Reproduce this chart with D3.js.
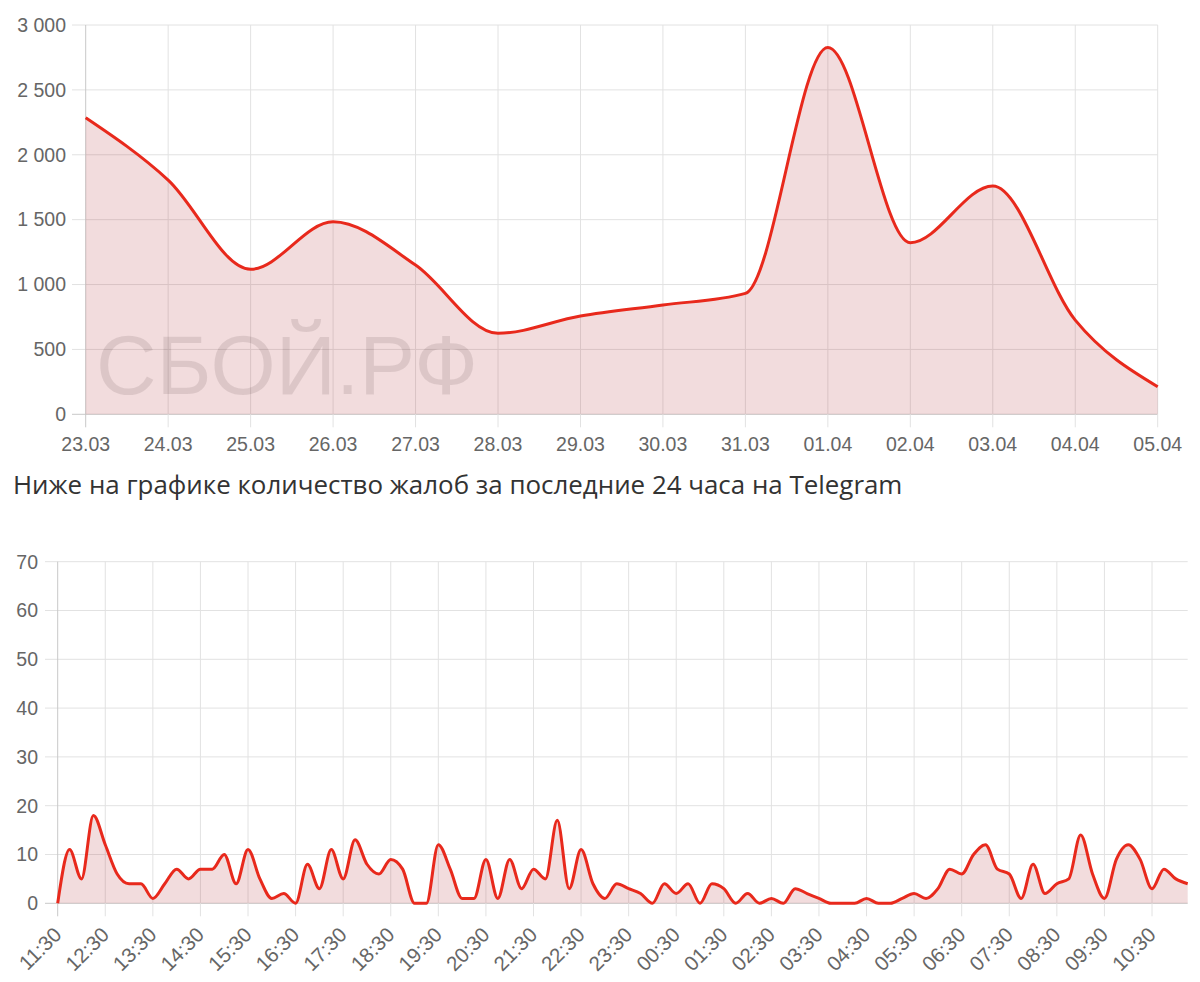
<!DOCTYPE html>
<html>
<head>
<meta charset="utf-8">
<script src="https://cdn.jsdelivr.net/npm/d3@7"></script>
<style>
  html, body { margin: 0; padding: 0; background: #fff; }
  svg { display: block; }
</style>
</head>
<body>
<div id="chart"></div>
<script>
// daily complaints, last two weeks
var dayLabels = ["23.03","24.03","25.03","26.03","27.03","28.03","29.03","30.03","31.03","01.04","02.04","03.04","04.04","05.04"];
var dayValues = [2285, 1805, 1117, 1484, 1150, 624, 757, 842, 932, 2827, 1322, 1759, 726, 213];
var dayTicks = [0, 500, 1000, 1500, 2000, 2500, 3000];

// telegram, last 24 hours, one value per 15 minutes starting 11:30
var hourLabels = ["11:30","12:30","13:30","14:30","15:30","16:30","17:30","18:30","19:30","20:30","21:30","22:30",
                  "23:30","00:30","01:30","02:30","03:30","04:30","05:30","06:30","07:30","08:30","09:30","10:30"];
var tgValues = [0, 11, 5, 18, 12, 6, 4, 4, 1, 4, 7, 5,
                7, 7, 10, 4, 11, 5, 1, 2, 0, 8, 3, 11,
                5, 13, 8, 6, 9, 7, 0, 0, 12, 7, 1, 1,
                9, 1, 9, 3, 7, 5, 17, 3, 11, 4, 1, 4,
                3, 2, 0, 4, 2, 4, 0, 4, 3, 0, 2, 0,
                1, 0, 3, 2, 1, 0, 0, 0, 1, 0, 0, 1,
                2, 1, 3, 7, 6, 10, 12, 7, 6, 1, 8, 2,
                4, 5, 14, 6, 1, 9, 12, 9, 3, 7, 5, 4];
var tgTicks = [0, 10, 20, 30, 40, 50, 60, 70];

var titleText = "Ниже на графике количество жалоб за последние 24 часа на Telegram";
var watermark = "СБОЙ.РФ";

var width = 1200, height = 982;
var gridColor = "#e2e2e2";
var axisColor = "#c8c8c8";
var lineColor = "#e8291c";
var areaColor = "rgba(180,50,55,0.17)";
var labelColor = "#666";
var tickFont = "Liberation Sans, Arial, Helvetica, sans-serif";

var fmt = function(v){ return d3.format(",")(v).replace(/,/g, " "); };

var svg = d3.select("#chart").append("svg")
  .attr("width", width)
  .attr("height", height);

//---------- top chart ----------
var xTop = d3.scalePoint().domain(dayLabels).range([85.7, 1157.7]);
var yTop = d3.scaleLinear().domain([0, 3000]).range([414.3, 25]);

var topG = svg.append("g");

topG.selectAll(".hgrid").data(dayTicks).enter().append("line")
  .attr("x1", 72).attr("x2", xTop.range()[1])
  .attr("y1", function(d){ return yTop(d); }).attr("y2", function(d){ return yTop(d); })
  .attr("stroke", function(d){ return d === 0 ? axisColor : gridColor; })
  .attr("stroke-width", 1);

topG.selectAll(".vgrid").data(dayLabels).enter().append("line")
  .attr("x1", function(d){ return xTop(d); }).attr("x2", function(d){ return xTop(d); })
  .attr("y1", yTop(3000)).attr("y2", yTop(0) + 13)
  .attr("stroke", function(d, i){ return i === 0 ? axisColor : gridColor; })
  .attr("stroke-width", 1);

// watermark
var wm = topG.append("text")
  .attr("x", 96).attr("y", 394)
  .attr("font-family", tickFont)
  .attr("font-size", 96)
  .attr("fill", "rgba(0,0,0,0.1)")
  .text(watermark);
var wmLen = wm.node().getComputedTextLength();
wm.attr("font-size", 96 * 382 / wmLen);

topG.append("path")
  .datum(dayValues)
  .attr("d", d3.area()
    .x(function(d, i){ return xTop(dayLabels[i]); })
    .y0(yTop(0))
    .y1(function(d){ return yTop(d); })
    .curve(d3.curveMonotoneX))
  .attr("fill", areaColor);

topG.append("path")
  .datum(dayValues)
  .attr("d", d3.line()
    .x(function(d, i){ return xTop(dayLabels[i]); })
    .y(function(d){ return yTop(d); })
    .curve(d3.curveMonotoneX))
  .attr("fill", "none")
  .attr("stroke", lineColor)
  .attr("stroke-width", 3)
  .attr("stroke-linejoin", "round");

topG.selectAll(".ylab").data(dayTicks).enter().append("text")
  .attr("x", 66).attr("y", function(d){ return yTop(d); })
  .attr("dy", "0.35em")
  .attr("text-anchor", "end")
  .attr("font-family", tickFont).attr("font-size", 19.5)
  .attr("fill", labelColor)
  .text(fmt);

topG.selectAll(".xlab").data(dayLabels).enter().append("text")
  .attr("x", function(d){ return xTop(d); }).attr("y", 451)
  .attr("text-anchor", "middle")
  .attr("font-family", tickFont).attr("font-size", 19.5)
  .attr("fill", labelColor)
  .text(function(d){ return d; });

//---------- title ----------
var title = svg.append("text")
  .attr("x", 13).attr("y", 494)
  .attr("font-family", "Open Sans, Noto Sans, sans-serif")
  .attr("font-size", 25)
  .attr("fill", "#333")
  .text(titleText);
var tLen = title.node().getComputedTextLength();
title.attr("font-size", 25 * 890 / tLen);

//---------- bottom chart ----------
var xBot = d3.scaleLinear().domain([0, tgValues.length - 1]).range([57.7, 1187.7]);
var yBot = d3.scaleLinear().domain([0, 70]).range([903.3, 561.7]);
var hourIdx = hourLabels.map(function(d, i){ return i * 4; });

var botG = svg.append("g");

botG.selectAll(".hgrid").data(tgTicks).enter().append("line")
  .attr("x1", 45).attr("x2", xBot.range()[1])
  .attr("y1", function(d){ return yBot(d); }).attr("y2", function(d){ return yBot(d); })
  .attr("stroke", function(d){ return d === 0 ? axisColor : gridColor; })
  .attr("stroke-width", 1);

botG.selectAll(".vgrid").data(hourIdx).enter().append("line")
  .attr("x1", function(d){ return xBot(d); }).attr("x2", function(d){ return xBot(d); })
  .attr("y1", yBot(70)).attr("y2", yBot(0) + 13)
  .attr("stroke", function(d, i){ return i === 0 ? axisColor : gridColor; })
  .attr("stroke-width", 1);

botG.append("path")
  .datum(tgValues)
  .attr("d", d3.area()
    .x(function(d, i){ return xBot(i); })
    .y0(yBot(0))
    .y1(function(d){ return yBot(d); })
    .curve(d3.curveMonotoneX))
  .attr("fill", areaColor);

botG.append("path")
  .datum(tgValues)
  .attr("d", d3.line()
    .x(function(d, i){ return xBot(i); })
    .y(function(d){ return yBot(d); })
    .curve(d3.curveMonotoneX))
  .attr("fill", "none")
  .attr("stroke", lineColor)
  .attr("stroke-width", 3)
  .attr("stroke-linejoin", "round");

botG.selectAll(".ylab").data(tgTicks).enter().append("text")
  .attr("x", 38).attr("y", function(d){ return yBot(d); })
  .attr("dy", "0.35em")
  .attr("text-anchor", "end")
  .attr("font-family", tickFont).attr("font-size", 19.5)
  .attr("fill", labelColor)
  .text(function(d){ return d; });

botG.selectAll(".xlab").data(hourLabels).enter().append("text")
  .attr("transform", function(d, i){ return "translate(" + (xBot(i * 4) + 5) + ",936) rotate(-45)"; })
  .attr("text-anchor", "end")
  .attr("font-family", tickFont).attr("font-size", 20.5)
  .attr("fill", labelColor)
  .text(function(d){ return d; });
</script>
</body>
</html>
